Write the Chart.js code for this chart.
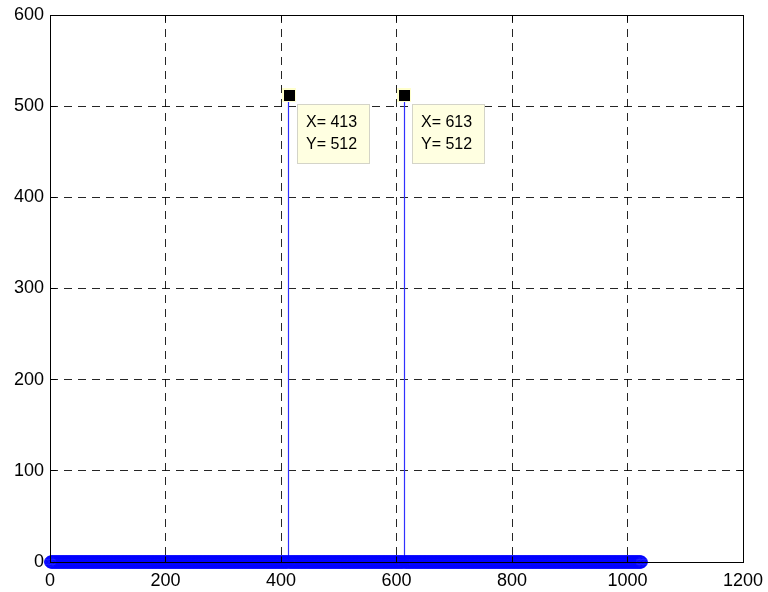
<!DOCTYPE html>
<html>
<head>
<meta charset="utf-8">
<script src="https://cdn.jsdelivr.net/npm/chart.js@4/dist/chart.umd.min.js"></script>
<style>
  html, body { margin: 0; padding: 0; background: #fff; }
  #wrap { width: 768px; height: 592px; }
</style>
</head>
<body>
<div id="wrap"><canvas id="c"></canvas></div>
<script>
// Magnitude spectrum of a 1024-point FFT: every bin is zero except two peaks.
const binCount = 1024;          // bins are numbered 1..1024
const peakBins = [413, 613];
const peakMags = [512, 512];
const tipBins = [413, 613];     // bins that carry a data tip
const xTicks = [0, 200, 400, 600, 800, 1000, 1200];
const yTicks = [0, 100, 200, 300, 400, 500, 600];

const spectrum = [];
for (let k = 1; k <= binCount; k++) {
  const p = peakBins.indexOf(k);
  spectrum.push({ x: k, y: p >= 0 ? peakMags[p] : 0 });
}

const FONT = '"Liberation Sans", Arial, Helvetica, sans-serif';
const STEM_BLUE = '#0000ff';

const crisp = v => Math.round(v - 0.5) + 0.5;

// Vertical stems from the zero baseline up to each sample
const stemPlugin = {
  id: 'stems',
  beforeDatasetsDraw(chart) {
    const { ctx, scales: { x, y } } = chart;
    const y0 = y.getPixelForValue(0);
    ctx.save();
    ctx.strokeStyle = '#3030ff';
    ctx.lineWidth = 1.2;
    spectrum.forEach(pt => {
      if (pt.y === 0) return;
      const px = crisp(x.getPixelForValue(pt.x));
      ctx.beginPath();
      ctx.moveTo(px, y0);
      ctx.lineTo(px, y.getPixelForValue(pt.y));
      ctx.stroke();
    });
    ctx.restore();
  }
};

// Baseline, axes box and inward tick marks
const framePlugin = {
  id: 'frame',
  afterDatasetsDraw(chart) {
    const { ctx, scales: { x, y } } = chart;
    const L = crisp(x.getPixelForValue(0)), R = crisp(x.getPixelForValue(1200));
    const T = crisp(y.getPixelForValue(600)), B = crisp(y.getPixelForValue(0));
    ctx.save();
    ctx.strokeStyle = '#000';
    ctx.lineWidth = 1;
    // stem baseline at zero
    ctx.beginPath();
    ctx.moveTo(L, B); ctx.lineTo(R, B);
    ctx.stroke();
    // box
    ctx.strokeRect(L, T, R - L, B - T);
    // inward ticks
    const tl = 6;
    ctx.beginPath();
    xTicks.forEach(v => {
      const px = crisp(x.getPixelForValue(v));
      ctx.moveTo(px, B); ctx.lineTo(px, B - tl);
      ctx.moveTo(px, T); ctx.lineTo(px, T + tl);
    });
    yTicks.forEach(v => {
      const py = crisp(y.getPixelForValue(v));
      ctx.moveTo(L, py); ctx.lineTo(L + tl, py);
      ctx.moveTo(R, py); ctx.lineTo(R - tl, py);
    });
    ctx.stroke();
    ctx.restore();
  }
};

// Data tips: square marker on the point plus a label box
const tipPlugin = {
  id: 'tips',
  afterDraw(chart) {
    const { ctx, scales: { x, y } } = chart;
    ctx.save();
    tipBins.forEach(bin => {
      const pt = spectrum[bin - 1];
      const px = Math.round(x.getPixelForValue(pt.x));
      const py = Math.round(y.getPixelForValue(pt.y));
      // label box
      const bx = px + 8, by = py + 9, bw = 73, bh = 60;
      ctx.fillStyle = '#ffffe1';
      ctx.fillRect(bx, by, bw, bh);
      ctx.strokeStyle = '#d4d4c8';
      ctx.lineWidth = 1;
      ctx.strokeRect(bx + 0.5, by + 0.5, bw - 1, bh - 1);
      ctx.fillStyle = '#000';
      ctx.font = '16px ' + FONT;
      ctx.textAlign = 'left';
      ctx.textBaseline = 'middle';
      ctx.fillText('X= ' + pt.x, bx + 9, by + 19);
      ctx.fillText('Y= ' + pt.y, bx + 9, by + 41);
      // marker
      ctx.fillStyle = '#ffffcc';
      ctx.fillRect(px - 7, py - 7, 14, 14);
      ctx.fillStyle = '#000';
      ctx.fillRect(px - 5, py - 5, 11, 11);
    });
    ctx.restore();
  }
};

const gridStyle = {
  color: 'rgba(0,0,0,0.85)',
  lineWidth: 1,
  drawTicks: false
};

new Chart(document.getElementById('c'), {
  type: 'scatter',
  data: {
    datasets: [{
      data: spectrum,
      pointStyle: 'circle',
      pointRadius: 6,
      pointHoverRadius: 6,
      pointBorderWidth: 1,
      borderColor: STEM_BLUE,
      backgroundColor: 'rgba(0,0,0,0)',
      showLine: false,
      clip: false
    }]
  },
  options: {
    responsive: true,
    maintainAspectRatio: false,
    animation: false,
    devicePixelRatio: 1,
    events: [],
    layout: { padding: { top: 15, right: 25, left: 0, bottom: 0 } },
    plugins: { legend: { display: false }, tooltip: { enabled: false } },
    scales: {
      x: {
        type: 'linear',
        min: 0, max: 1200,
        afterBuildTicks: s => { s.ticks = xTicks.map(v => ({ value: v })); },
        afterFit: s => { s.height = 30; s.paddingLeft = 0; s.paddingRight = 0; },
        grid: gridStyle,
        border: { display: false, dash: [8, 6] },
        ticks: { color: '#000', padding: 8, maxRotation: 0, autoSkip: false,
                 callback: v => String(v),
                 font: { family: FONT, size: 18 } }
      },
      y: {
        type: 'linear',
        min: 0, max: 600,
        afterBuildTicks: s => { s.ticks = yTicks.map(v => ({ value: v })); },
        afterFit: s => { s.width = 50; s.paddingTop = 0; s.paddingBottom = 0; },
        grid: gridStyle,
        border: { display: false, dash: [8, 6] },
        ticks: { color: '#000', padding: 6, autoSkip: false,
                 callback: v => String(v),
                 font: { family: FONT, size: 18 } }
      }
    }
  },
  plugins: [stemPlugin, framePlugin, tipPlugin]
});
</script>
</body>
</html>
